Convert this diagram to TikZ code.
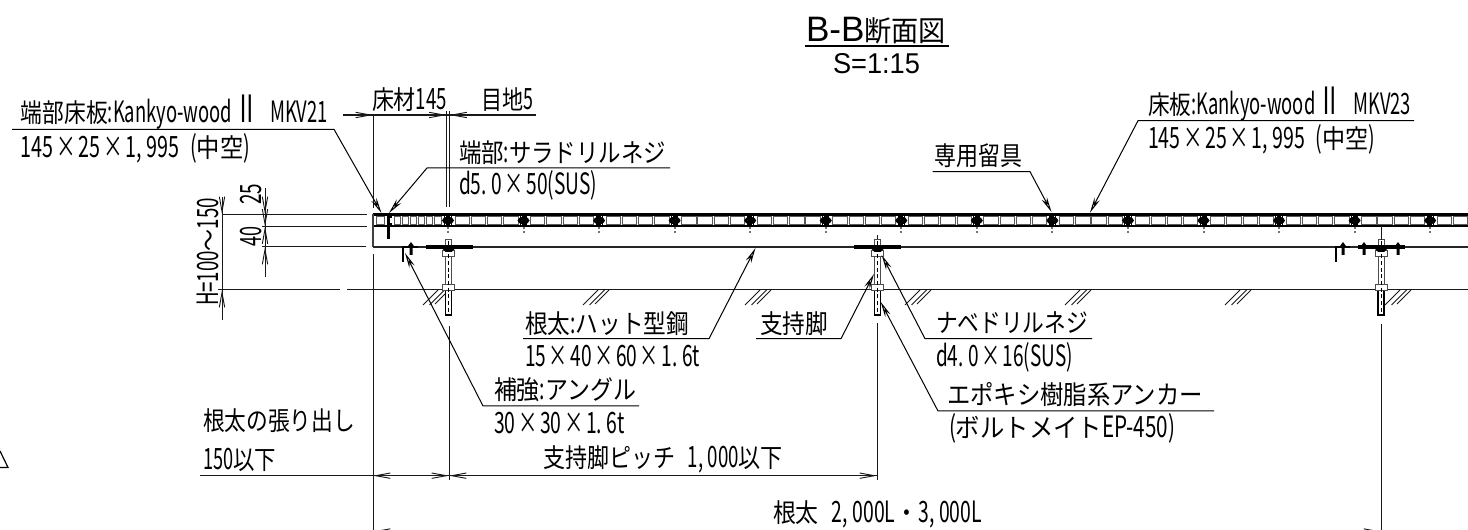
\documentclass[tikz,border=0pt]{standalone}
\usepackage{fontspec}
\usepackage{graphicx}
\usetikzlibrary{arrows.meta}
\setmainfont{Noto Sans CJK JP}[FakeStretch=0.88]
\newfontfamily\la{Noto Sans CJK JP}[FakeStretch=0.66,Scale=1.13]
\newfontfamily\ti{Liberation Sans}[FakeStretch=1.05]
\newfontfamily\tj{Noto Sans CJK JP}
\newlength\px \setlength\px{0.75pt}
\newcommand{\lbl}[5]{\node[txt] (#1) at (#2,#3) {\resizebox{#4\px}{\height}{#5}};}
\newcommand{\lblr}[5]{\node[txt,rotate=90] (#1) at (#2,#3) {\resizebox{#4\px}{\height}{#5}};}
\newcommand{\X}{\hspace{.1em}{\la ×}\hspace{.1em}}
\newcommand{\C}{\hspace{.16em}}
\newcommand{\R}{\hspace{.12em}\scalebox{1.05}[1.45]{Ⅱ}}
\newcommand{\bolt}[3]{%
  \draw[boltline,fill=white] (#1-3,256) rectangle (#1+3,315);
  \draw[black,line width=1.2pt] (#1-3,290) -- (#1-3,315) -- (#1+3,315) -- (#1+3,290);
  \draw[boltline,fill=white] (#1-3,239) rectangle (#1+3,247);
  \draw[boltline,fill=white] (#1-6,250) rectangle (#1+6,256);
  \draw[boltline,fill=white] (#1-6,284) rectangle (#1+6,290);
  \fill[black] (#2,245.4) rectangle (#3,249);
  \fill[black] (#1-8,247) -- (#1+8,247) -- (#1+3,252) -- (#1-3,252) -- cycle;
  \draw[black,densely dashed,line width=.6pt] (#1,241) -- (#1,312);
}
\newcommand{\fast}[1]{%
  \fill[black] (#1,242) -- (#1+4,247.5) -- (#1+1.5,248) -- (#1+1.5,255) -- (#1-1.5,255) -- (#1-1.5,248) -- (#1-4,247.5) -- cycle;
}
\newcommand{\hatch}[1]{%
  \draw[thinl] (#1,305) -- (#1+15,290);
  \draw[thinl] (#1+6.5,305) -- (#1+21.5,290);
  \draw[thinl] (#1+12,304) -- (#1+26,290);
}
\tikzset{
  txt/.style={anchor=base west,inner sep=0pt,outer sep=0pt,text=black,font=\fontsize{19.5pt}{21pt}\selectfont},
  thinl/.style={line width=.75pt,black!90},
  rule/.style={line width=.95pt,black!90},
  dimt/.style={line width=.7pt,black!90,-{Straight Barb[length=11pt,width=4pt]}},
  lead/.style={line width=.75pt,black,-{Stealth[open,length=11.5pt,width=4.4pt]}},
  boltline/.style={line width=.6pt,black!70},
  cell/.style={line width=.6pt,black!65,fill=white}
}
\begin{document}
\begin{tikzpicture}[x=0.75pt,y=-0.75pt]
\useasboundingbox (0,0) rectangle (1468,530);
\clip (0,0) rectangle (1468,530);
\fill[white] (0,0) rectangle (1468,530);

% corner triangle
\draw[line width=.9pt] (0,451) -- (8,467.5) -- (0,467.5);

% deck
\draw[line width=1.7pt,black] (373,214.5) -- (1468,214.5);
\draw[line width=1.7pt,black] (373,226.3) -- (1468,226.3);
\draw[line width=.8pt,black!75] (373,214.5) -- (373,247);
\draw[line width=1.2pt,black!85] (373,247) -- (1468,247);
% end board cells
\foreach \xa/\xb in {376/384.5,394/400,402.5/408,410.5/416,418.5/424,426.5/432,434.5/441}
  \draw[cell] (\xa,216.7) rectangle (\xb,224.3);
\draw[line width=.8pt,black] (388,217) -- (392,217) (388,224) -- (392,224);
% regular boards
\foreach \k in {0,...,13}{
  \pgfmathsetmacro{\j}{448+75.55*\k}
  \foreach \c in {0,...,3}{
    \pgfmathsetmacro{\xa}{\j+7+16.2*\c}
    \pgfmathsetmacro{\xb}{\xa+14.3}
    \draw[cell] (\xa,216.8) rectangle (\xb,224.2);
  }
  \fill[black] (\j-3.6,214.5) rectangle (\j-2.6,226.5);
  \fill[black] (\j+2.6,214.5) rectangle (\j+3.6,226.5);
  \fill[black] (\j,220.5) ellipse [x radius=6,y radius=3.6];
  \fill[black] (\j-2,216) rectangle (\j+2,226);
  \draw[black!55,line width=1.5pt,dash pattern=on 1.8pt off 1pt] (\j,227) -- (\j,233);
}
% end-board screw
\draw[line width=2pt,black] (388.5,213) -- (388.5,239);

% ground
\draw[rule] (218,289.6) -- (340,289.6);
\draw[rule] (347,289.6) -- (1468,289.6);
\foreach \h in {423,583,745,905,1065,1225,1385} {\hatch{\h}}

% anchors
\bolt{448.5}{426}{472.5}
\bolt{877.5}{854}{901}
\bolt{1381}{1358}{1405}
% angles and fasteners
\draw[line width=1.4pt,black] (403,262) -- (403,247) -- (418,247);
\fast{411}
\draw[line width=1.4pt,black] (1336,262) -- (1336,247) -- (1350,247);
\fast{1343} \fast{1364} \fast{1398}

% extension lines
\draw[thinl] (262,226.5) -- (367,226.5);
\draw[thinl] (262,247) -- (366,247);
\draw[thinl] (222,214.3) -- (367,214.3);
\draw[thinl] (222,197) -- (222,320);
\draw[thinl] (265,188) -- (265,277);
\draw[thinl] (373,115) -- (373,208);
\draw[thinl] (446.5,111) -- (446.5,207);
\draw[thinl] (449.5,111) -- (449.5,207);
\draw[thinl] (373,254) -- (373,530);
\draw[thinl] (449,326) -- (449,480);
\draw[thinl] (877.5,235) -- (877.5,239);
\draw[thinl] (877.5,323) -- (877.5,480);
\draw[thinl] (1381,226) -- (1381,240);
\draw[thinl] (1381,324) -- (1381,530);

% dimension lines
\draw[rule] (343,115) -- (536,115);
\draw[rule] (200,475.7) -- (877,475.7);
\draw[thinl] (373,531.5) -- (1381,531.5);
\draw[dimt] (222,199) -- (222,214);
\draw[dimt] (222,305) -- (222,290);
\draw[dimt] (265,199) -- (265,214);
\draw[dimt] (265,241) -- (265,226.5);
\draw[dimt] (265,212) -- (265,226.5);
\draw[dimt] (265,262) -- (265,247);
\draw[dimt] (358,115) -- (373,115);
\draw[dimt] (431,115) -- (446.5,115);
\draw[dimt] (465,115) -- (449.5,115);
\draw[dimt] (389,475.7) -- (373,475.7);
\draw[dimt] (433,475.7) -- (449,475.7);
\draw[dimt] (465,475.7) -- (449,475.7);
\draw[dimt] (861,475.7) -- (877,475.7);
\draw[dimt] (389,531.5) -- (373,531.5);
\draw[dimt] (1365,531.5) -- (1381,531.5);

% leaders
\coordinate (a1) at (12,129.3);   \coordinate (b1) at (334,129.3);  \coordinate (c1) at (381.5,213);
\coordinate (a2) at (670,168);    \coordinate (b2) at (427,168);    \coordinate (c2) at (389,213);
\coordinate (a3) at (1414,120.7); \coordinate (b3) at (1138,120.7); \coordinate (c3) at (1090,212.7);
\coordinate (a4) at (932.6,171.7);\coordinate (b4) at (1030,171.7); \coordinate (c4) at (1051.5,212);
\coordinate (a5) at (523,338.7);  \coordinate (b5) at (709,338.7);  \coordinate (c5) at (755.5,248);
\coordinate (a6) at (756,338.7);  \coordinate (b6) at (841,338.7);  \coordinate (c6) at (874,274);
\coordinate (a7) at (639,406);    \coordinate (b7) at (483,406);    \coordinate (c7) at (405,253);
\coordinate (a8) at (1092,338.7); \coordinate (b8) at (925,338.7);  \coordinate (c8) at (881.7,255);
\coordinate (a9) at (1214,411);   \coordinate (b9) at (938,411);    \coordinate (c9) at (880.7,302);
\foreach \n in {1,...,9} \draw[lead] (a\n) -- (b\n) -- (c\n);

% title
\node[txt] (title) at (806,41.5) {\resizebox{140\px}{\height}{\fontsize{26.5pt}{28pt}\selectfont\ti B-B\tj\fontsize{21.5pt}{28pt}\selectfont 断面図}};
\draw[line width=1.7pt,black] (805,45.7) -- (949,45.7);
\node[txt] (scale) at (833,73.5) {\resizebox{87\px}{\height}{\fontsize{21.5pt}{22pt}\selectfont\ti S=1:15}};

% labels
\lbl{t1}{21}{123}{307}{端部床板{\la :Kankyo-wood}\R{\la\ \ \ MKV21}}
\lbl{t2}{21}{158}{229}{{\la 145}\X{\la 25}\X{\la 1,\C995}\ \ {\la (}中空{\la )}}
\lbl{t3}{372}{110}{75}{床材{\la 145}}
\lbl{t4}{481}{110}{52}{目地{\la 5}}
\lbl{t5}{459}{163}{207}{端部{\la :}サラドリルネジ}
\lbl{t6}{459}{195}{138}{{\la d5.\C0}\X{\la 50(SUS)}}
\lbl{t7}{1148}{115}{263}{床板{\la :Kankyo-wood}\R{\la\ \ \ MKV23}}
\lbl{t8}{1148}{149}{227}{{\la 145}\X{\la 25}\X{\la 1,\C995}\ \ {\la (}中空{\la )}}
\lbl{t9}{934}{166}{88}{専用留具}
\lbl{t10}{525}{334}{164}{根太{\la :}ハット型鋼}
\lbl{t11}{525}{367}{175}{{\la 15}\X{\la 40}\X{\la 60}\X{\la 1.\C6t}}
\lbl{t12}{760}{334}{68}{支持脚}
\lbl{t13}{494}{400}{142}{補強{\la :}アングル}
\lbl{t14}{494}{434}{131}{{\la 30}\X{\la 30}\X{\la 1.\C6t}}
\lbl{t15}{543}{468}{240}{支持脚ピッチ{\la\ \ \ 1,\C000}以下}
\lbl{t16}{203}{431}{152}{根太の張り出し}
\lbl{t17}{203}{470}{73}{{\la 150}以下}
\lbl{t18}{936}{333}{152}{ナベドリルネジ}
\lbl{t19}{936}{367}{137}{{\la d4.\C0}\X{\la 16(SUS)}}
\lbl{t20}{947}{405}{256}{エポキシ樹脂系アンカー}
\lbl{t21}{949}{438}{226}{{\la (}ボルトメイト{\la EP-450)}}
\lbl{t22}{773}{523}{209}{根太{\la\ \ \ 2,\C000L}・{\la 3,\C000L}}
\lblr{t23}{218}{306}{108}{{\la H=100}〜{\la 150}}
\lblr{t24}{261}{205}{21}{{\la 25}}
\lblr{t25}{261}{247}{20}{{\la 40}}
\end{tikzpicture}
\end{document}
